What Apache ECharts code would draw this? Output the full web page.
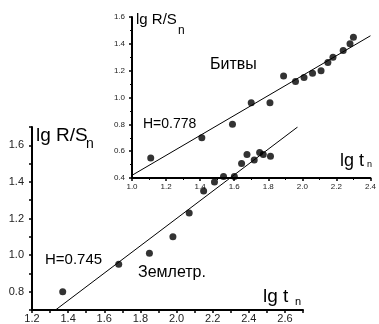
<!DOCTYPE html>
<html>
<head>
<meta charset="utf-8">
<script src="https://cdn.jsdelivr.net/npm/echarts@6/dist/echarts.min.js"></script>
<style>
  html, body { margin: 0; padding: 0; background: #fff; }
  #chart { width: 379px; height: 324px; }
</style>
</head>
<body>
<div id="chart"></div>
<script>
// Землетрясения (основной график)
const quakeX = [1.37, 1.68, 1.85, 1.98, 2.07, 2.15, 2.21, 2.26, 2.32, 2.36, 2.39, 2.43, 2.46, 2.48, 2.52]
const quakeY = [0.80, 0.95, 1.01, 1.10, 1.23, 1.35, 1.40, 1.43, 1.43, 1.50, 1.55, 1.52, 1.56, 1.55, 1.54]
const quakeFitX = [1.33, 2.67]
const quakeFitY = [0.70, 1.70]

// Битвы (врезка)
const battleX = [1.11, 1.41, 1.59, 1.70, 1.81, 1.89, 1.96, 2.01, 2.06, 2.11, 2.15, 2.18, 2.24, 2.28, 2.30]
const battleY = [0.55, 0.70, 0.80, 0.96, 0.96, 1.16, 1.12, 1.15, 1.18, 1.20, 1.26, 1.30, 1.35, 1.40, 1.45]
const battleFitX = [1.0, 2.4]
const battleFitY = [0.42, 1.46]

const font = 'Liberation Sans, Arial, sans-serif'
const zip = (xs, ys) => xs.map((x, i) => [x, ys[i]])

// подписи только на чётных десятых (шаг 0.1, чтобы min=0.7 не ломал метки)
const evenTenth = v => (Math.round(v * 10) % 2 === 0 ? v.toFixed(1) : '')

function axis(grid, min, max, interval, fontSize, margin, fmt, minor) {
  return {
    type: 'value',
    gridIndex: grid,
    min: min,
    max: max,
    interval: interval,
    axisLine: { show: true, onZero: false, lineStyle: { color: '#000', width: 2 } },
    axisTick: { show: true, inside: false, length: 3, lineStyle: { color: '#000', width: 1.5 } },
    minorTick: { show: !!minor, splitNumber: 2, length: 2, lineStyle: { color: '#000', width: 1 } },
    axisLabel: { fontSize: fontSize, color: '#222', fontFamily: font, margin: margin, formatter: fmt, showMinLabel: true, showMaxLabel: true },
    splitLine: { show: false }
  }
}

function txt(x, y, text, size) {
  return {
    type: 'text', left: x, top: y, z: 100,
    style: { text: text, fontSize: size, fontFamily: font, fill: '#000' }
  }
}

const chart = echarts.init(document.getElementById('chart'))
chart.setOption({
  animation: false,
  backgroundColor: '#fff',
  grid: [
    { left: 32, top: 127, right: 76, bottom: 13 },
    { left: 132, top: 17, right: 6, bottom: 146 }
  ],
  xAxis: [
    axis(0, 1.2, 2.7, 0.1, 11, 3, v => (v > 2.65 ? '' : evenTenth(v))),
    axis(1, 1.0, 2.4, 0.2, 8, 5, v => v.toFixed(1), true)
  ],
  yAxis: [
    axis(0, 0.7, 1.7, 0.1, 11, 8, evenTenth),
    axis(1, 0.4, 1.6, 0.2, 8, 7, v => v.toFixed(1), true)
  ],
  series: [
    {
      name: 'Землетр.', type: 'scatter', xAxisIndex: 0, yAxisIndex: 0,
      symbolSize: 7, itemStyle: { color: '#000' },
      data: zip(quakeX, quakeY)
    },
    {
      type: 'line', xAxisIndex: 0, yAxisIndex: 0, symbol: 'none',
      lineStyle: { color: '#000', width: 1 },
      data: zip(quakeFitX, quakeFitY)
    },
    {
      name: 'Битвы', type: 'scatter', xAxisIndex: 1, yAxisIndex: 1,
      symbolSize: 7, itemStyle: { color: '#000' },
      data: zip(battleX, battleY)
    },
    {
      type: 'line', xAxisIndex: 1, yAxisIndex: 1, symbol: 'none',
      lineStyle: { color: '#000', width: 1 },
      data: zip(battleFitX, battleFitY)
    }
  ],
  graphic: [
    txt(36, 126, 'lg R/S', 19),
    txt(86, 137, 'n', 14),
    txt(263, 287, 'lg t', 19),
    txt(295, 296, 'n', 11),
    txt(45, 252, 'H=0.745', 15),
    txt(138, 265, 'Землетр.', 16),
    txt(136, 12, 'lg R/S', 15),
    txt(178, 25, 'n', 12),
    txt(340, 152, 'lg t', 18),
    txt(367, 160, 'n', 9),
    txt(210, 57, 'Битвы', 16),
    txt(143, 117, 'H=0.778', 14)
  ]
})
</script>
</body>
</html>
